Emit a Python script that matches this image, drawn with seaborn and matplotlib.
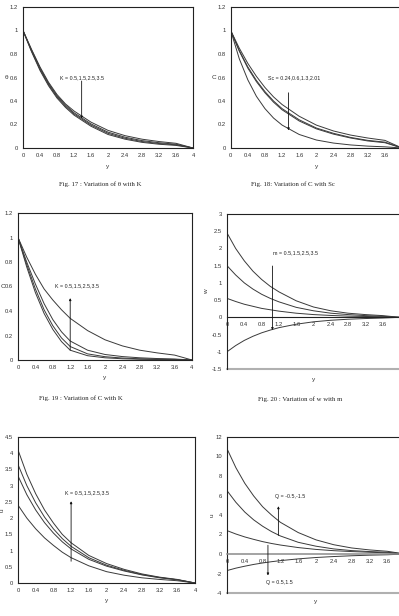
import matplotlib
matplotlib.use('Agg')
import matplotlib.pyplot as plt
import seaborn as sns

sns.set_style('white')
plt.rcParams['font.family'] = ['Liberation Sans', 'DejaVu Sans']

# common y grid (abscissa "y" in every panel)
y_pts = [0, 0.2, 0.4, 0.6, 0.8, 1.0, 1.2, 1.6, 2.0, 2.4, 2.8, 3.2, 3.6, 4.0]
x_ticks = [0, 0.4, 0.8, 1.2, 1.6, 2, 2.4, 2.8, 3.2, 3.6, 4]
x_labels = ['0', '0.4', '0.8', '1.2', '1.6', '2', '2.4', '2.8', '3.2', '3.6', '4']

# Fig 17 : theta vs K (K = 0.5, 1.5, 2.5, 3.5)
theta_k1 = [1.0, 0.84, 0.69, 0.56, 0.455, 0.375, 0.315, 0.22, 0.15, 0.105, 0.075, 0.055, 0.04, 0.0]
theta_k2 = [1.0, 0.835, 0.68, 0.55, 0.445, 0.365, 0.30, 0.205, 0.135, 0.092, 0.063, 0.045, 0.032, 0.0]
theta_k3 = [1.0, 0.825, 0.67, 0.54, 0.435, 0.355, 0.29, 0.195, 0.125, 0.083, 0.055, 0.038, 0.027, 0.0]
theta_k4 = [1.0, 0.82, 0.66, 0.53, 0.425, 0.345, 0.28, 0.185, 0.115, 0.075, 0.048, 0.032, 0.022, 0.0]

# Fig 18 : C vs Sc
c_sc1 = [1.0, 0.85, 0.72, 0.61, 0.515, 0.435, 0.37, 0.27, 0.195, 0.145, 0.11, 0.085, 0.065, 0.0]
c_sc2 = [1.0, 0.83, 0.69, 0.575, 0.48, 0.40, 0.335, 0.24, 0.17, 0.125, 0.09, 0.065, 0.05, 0.0]
c_sc3 = [1.0, 0.825, 0.68, 0.565, 0.47, 0.39, 0.325, 0.23, 0.163, 0.118, 0.085, 0.06, 0.045, 0.0]
c_sc4 = [1.0, 0.76, 0.58, 0.44, 0.335, 0.255, 0.195, 0.115, 0.068, 0.042, 0.026, 0.016, 0.01, 0.0]

# Fig 19 : C vs K
c_k1 = [1.0, 0.84, 0.70, 0.58, 0.49, 0.41, 0.34, 0.24, 0.165, 0.115, 0.08, 0.058, 0.04, 0.0]
c_k2 = [1.0, 0.80, 0.62, 0.46, 0.33, 0.23, 0.155, 0.08, 0.045, 0.028, 0.018, 0.012, 0.008, 0.0]
c_k3 = [1.0, 0.78, 0.58, 0.41, 0.28, 0.18, 0.11, 0.05, 0.027, 0.016, 0.01, 0.007, 0.005, 0.0]
c_k4 = [1.0, 0.76, 0.55, 0.38, 0.25, 0.15, 0.08, 0.035, 0.018, 0.01, 0.006, 0.004, 0.003, 0.0]

# Fig 20 : w vs m
w_m1 = [2.45, 2.0, 1.64, 1.34, 1.10, 0.90, 0.74, 0.48, 0.30, 0.19, 0.12, 0.08, 0.05, 0.0]
w_m2 = [1.5, 1.23, 1.0, 0.82, 0.67, 0.55, 0.45, 0.29, 0.19, 0.12, 0.08, 0.05, 0.03, 0.0]
w_m3 = [0.55, 0.46, 0.38, 0.32, 0.26, 0.22, 0.18, 0.12, 0.08, 0.055, 0.035, 0.025, 0.015, 0.0]
w_m4 = [-1.0, -0.82, -0.67, -0.55, -0.45, -0.37, -0.3, -0.2, -0.13, -0.085, -0.055, -0.035, -0.02, 0.0]

# u vs K
u_k1 = [4.1, 3.35, 2.75, 2.25, 1.85, 1.5, 1.24, 0.85, 0.6, 0.42, 0.28, 0.18, 0.11, 0.0]
u_k2 = [3.65, 3.0, 2.47, 2.03, 1.67, 1.37, 1.13, 0.78, 0.55, 0.39, 0.26, 0.17, 0.1, 0.0]
u_k3 = [3.3, 2.72, 2.25, 1.86, 1.54, 1.27, 1.05, 0.73, 0.52, 0.37, 0.25, 0.16, 0.1, 0.0]
u_k4 = [2.4, 2.0, 1.67, 1.39, 1.16, 0.95, 0.78, 0.53, 0.35, 0.24, 0.16, 0.11, 0.07, 0.0]

# u vs Q
u_q1 = [10.8, 8.85, 7.25, 5.95, 4.85, 4.0, 3.25, 2.2, 1.45, 0.95, 0.62, 0.42, 0.28, 0.0]
u_q2 = [6.5, 5.3, 4.3, 3.5, 2.85, 2.3, 1.85, 1.2, 0.8, 0.52, 0.35, 0.25, 0.18, 0.0]
u_q3 = [2.4, 2.05, 1.75, 1.5, 1.27, 1.08, 0.92, 0.66, 0.47, 0.34, 0.25, 0.18, 0.12, 0.0]
u_q4 = [-1.7, -1.45, -1.25, -1.07, -0.92, -0.79, -0.68, -0.5, -0.36, -0.26, -0.18, -0.12, -0.08, 0.0]

W, H = 399, 616
fig = plt.figure(figsize=(W / 100, H / 100), dpi=100)
fig.patch.set_facecolor('white')

TICK = 4.2
LINE = '#3a3a3a'


def panel(l, r, t, b):
    return fig.add_axes([l / W, 1 - b / H, (r - l) / W, (b - t) / H])


def style(ax, curves, ylim, yticks, ylabels, xlab_y, ylab, ylab_x, rot, xmax_label=11, zero_axis=False):
    for c in curves:
        sns.lineplot(x=y_pts, y=c, ax=ax, color=LINE, lw=0.7)
    ax.set_xlim(0, 4)
    ax.set_ylim(*ylim)
    ax.set_xticks(x_ticks)
    ax.set_xticklabels(x_labels[:xmax_label] + [''] * (11 - xmax_label))
    ax.set_yticks(yticks)
    ax.set_yticklabels(ylabels)
    ax.tick_params(labelsize=TICK, length=2, width=0.5, pad=1.5, colors='#333')
    for s in ax.spines.values():
        s.set_color('#222')
        s.set_linewidth(0.8)
    if zero_axis:
        ax.spines['bottom'].set_position(('data', 0))
        ax.axhline(ylim[0], color='#b0b0b0', lw=1.5, clip_on=False)
    ax.set_xlabel('y', fontsize=4.6, color='#333')
    ax.xaxis.set_label_coords(0.5, xlab_y)
    ax.set_ylabel(ylab, fontsize=4.6, rotation=rot, ha='center', va='center', color='#333')
    ax.yaxis.set_label_coords(ylab_x, 0.5)
    ax.set_facecolor('white')


def arrow(ax, x, y0, y1):
    ax.annotate('', xy=(x, y1), xytext=(x, y0),
                arrowprops=dict(arrowstyle='-|>', lw=0.6, color='#111', mutation_scale=3, shrinkA=0, shrinkB=0))


def note(ax, x, y, s):
    ax.text(x, y, s, fontsize=3.8, ha='left', va='center', color='#222')


def caption(x, y, s):
    fig.text(x / W, 1 - y / H, s, fontsize=4.9, ha='center', va='center',
             family=['Liberation Serif', 'DejaVu Serif'], color='#222')


yt12 = [0, 0.2, 0.4, 0.6, 0.8, 1.0, 1.2]
yl12 = ['0', '0.2', '0.4', '0.6', '0.8', '1', '1.2']

# Fig 17
ax1 = panel(23, 193, 7, 148)
style(ax1, [theta_k1, theta_k2, theta_k3, theta_k4], (0, 1.2), yt12, yl12, -0.11, 'θ', -0.1, 0)
arrow(ax1, 1.38, 0.57, 0.25)
note(ax1, 0.88, 0.6, 'K = 0.5,1.5,2.5,3.5')
caption(100, 184, 'Fig. 17 : Variation of θ with K')

# Fig 18
ax2 = panel(230.7, 402, 7, 148)
style(ax2, [c_sc1, c_sc2, c_sc3, c_sc4], (0, 1.2), yt12, yl12, -0.11, 'C', -0.1, 0, xmax_label=10)
arrow(ax2, 1.35, 0.47, 0.15)
note(ax2, 0.88, 0.6, 'Sc = 0.24,0.6,1.3,2.01')
caption(293, 184, 'Fig. 18: Variation of C with Sc')

# Fig 19
ax3 = panel(18, 192, 213, 360)
style(ax3, [c_k1, c_k2, c_k3, c_k4], (0, 1.2), yt12, yl12, -0.105, 'C', -0.086, 0)
arrow(ax3, 1.2, 0.08, 0.505)
note(ax3, 0.86, 0.605, 'K = 0.5,1.5,2.5,3.5')
caption(81, 398, 'Fig. 19 : Variation of C with K')

# Fig 20
ax4 = panel(227, 400, 214, 369)
style(ax4, [w_m1, w_m2, w_m3, w_m4], (-1.5, 3),
      [-1.5, -1, -0.5, 0, 0.5, 1, 1.5, 2, 2.5, 3],
      ['-1.5', '-1', '-0.5', '0', '0.5', '1', '1.5', '2', '2.5', '3'],
      -0.05, 'w', -0.118, 90, xmax_label=10, zero_axis=True)
arrow(ax4, 1.05, 1.49, -0.37)
note(ax4, 1.06, 1.86, 'm = 0.5,1.5,2.5,3.5')
caption(300, 399, 'Fig. 20 : Variation of w with m')

# u vs K
ax5 = panel(18, 195, 437, 583)
style(ax5, [u_k1, u_k2, u_k3, u_k4], (0, 4.5),
      [0, 0.5, 1, 1.5, 2, 2.5, 3, 3.5, 4, 4.5],
      ['0', '0.5', '1', '1.5', '2', '2.5', '3', '3.5', '4', '4.5'],
      -0.105, 'u', -0.092, 90)
arrow(ax5, 1.2, 0.67, 2.52)
note(ax5, 1.07, 2.77, 'K = 0.5,1.5,2.5,3.5')

# u vs Q
ax6 = panel(227, 405, 437, 593)
style(ax6, [u_q1, u_q2, u_q3, u_q4], (-4, 12),
      [-4, -2, 0, 2, 4, 6, 8, 10, 12],
      ['-4', '-2', '0', '2', '4', '6', '8', '10', '12'],
      -0.04, 'u', -0.086, 90, xmax_label=10, zero_axis=True)
ax6.spines['bottom'].set_color('#8a8a8a')
ax6.spines['bottom'].set_linewidth(1.1)
arrow(ax6, 1.155, 1.9, 4.9)
arrow(ax6, 0.92, 0.9, -2.2)
note(ax6, 1.07, 5.9, 'Q = -0.5,-1.5')
note(ax6, 0.885, -2.97, 'Q = 0.5,1.5')

fig.savefig('out.png', dpi=100, facecolor='white')
